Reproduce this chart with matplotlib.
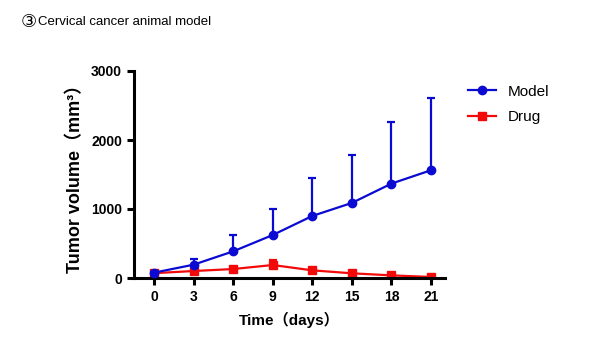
import numpy as np
import matplotlib.pyplot as plt
from matplotlib.lines import Line2D

days = [0, 3, 6, 9, 12, 15, 18, 21]
model = [77, 193, 386, 623, 899, 1088, 1368, 1562]
model_err = [10, 87, 242, 382, 557, 692, 896, 1040]
drug = [70, 101, 130, 188, 111, 68, 38, 15]
drug_err = [5, 10, 12, 77, 15, 8, 6, 4]

cjk = ['Liberation Sans', 'Noto Sans CJK SC', 'DejaVu Sans']

fig = plt.figure(figsize=(6.07, 3.61), dpi=100)
ax = fig.add_axes([134/607, 1 - 278/361, (445 - 134)/607, (278 - 71)/361])

blue = '#0a0ad2'
red = '#f20a0a'
ax.errorbar(days, model, yerr=[np.zeros(len(model)), model_err], color=blue,
            marker='o', markersize=6, lw=1.6, capsize=3, elinewidth=1.6,
            capthick=1.6, zorder=3)
ax.errorbar(days, drug, yerr=[np.zeros(len(drug)), drug_err], color=red,
            marker='s', markersize=6, lw=1.6, capsize=3, elinewidth=1.6,
            capthick=1.6, zorder=2)

ax.set_xlim(-1.516, 22.06)
ax.set_ylim(0, 3000)
ax.set_xticks(days)
ax.set_yticks([0, 1000, 2000, 3000])
for s in ['top', 'right']:
    ax.spines[s].set_visible(False)
for s in ['left', 'bottom']:
    ax.spines[s].set_linewidth(2.2)
ax.tick_params(width=2.2, length=5, direction='out')
for lab in ax.get_xticklabels() + ax.get_yticklabels():
    lab.set_fontweight('bold')
    lab.set_fontsize(10)
    lab.set_family('Liberation Sans')

ax.set_xlabel('Time（days）', fontsize=11, fontweight='bold', family=cjk, labelpad=6)
ax.set_ylabel('Tumor volume（mm³）', fontsize=13, fontweight='bold', family=cjk, labelpad=5)

handles = [Line2D([], [], color=blue, marker='o', markersize=6, lw=1.6),
           Line2D([], [], color=red, marker='s', markersize=6, lw=1.6)]
ax.legend(handles, ['Model', 'Drug'], loc='upper left', bbox_to_anchor=(1.03, 1.0),
          frameon=False, prop={'family': 'Liberation Sans', 'size': 11},
          handlelength=1.8, labelspacing=0.75)

fig.text(21/607, 1 - 22/361, '③', fontsize=13, family='DejaVu Sans', va='center')
fig.text(38/607, 1 - 22/361, 'Cervical cancer animal model', fontsize=9.5,
         family='Liberation Sans', va='center')

fig.savefig('out.png', dpi=100)
